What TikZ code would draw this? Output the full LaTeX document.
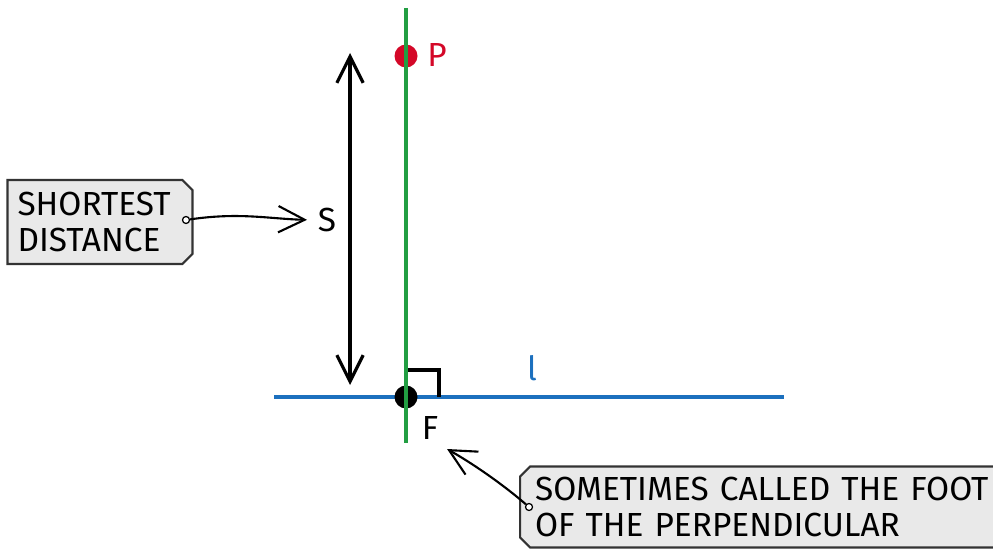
\documentclass[tikz,border=0pt]{standalone}
\usepackage{fontspec}
\setmainfont{Fira Sans}
\usetikzlibrary{arrows.meta, shapes.misc, positioning}

\definecolor{perpgreen}{RGB}{34,158,66}
\definecolor{lineblue}{RGB}{28,112,190}
\definecolor{pointred}{RGB}{212,8,40}
\definecolor{tagfill}{RGB}{233,233,233}

\begin{document}
\begin{tikzpicture}[
    x=0.02cm, y=-0.02cm,
    >={Straight Barb[length=15pt, width=15pt]},
    every node/.style={font=\fontsize{19}{21}\selectfont},
    dot/.style={circle, fill, inner sep=0pt, minimum size=0.46cm},
    lab/.style={inner sep=2pt},
    tag/.style={chamfered rectangle, draw=black!80, fill=tagfill, line width=1.2pt,
        align=left, inner sep=0pt, chamfered rectangle xsep=0.1cm,
        chamfered rectangle ysep=0.1cm},
    hole/.style={circle, draw, fill=white, inner sep=0pt, minimum size=4pt, line width=0.7pt},
    link/.style={->, line width=1.2pt}
]
\useasboundingbox (0,0) rectangle (993,550);

% Line l
\coordinate (gTop) at (406,8);
\coordinate (gBot) at (406,443);
\coordinate (lLeft) at (274,397);
\coordinate (lRight) at (784,397);
\draw[lineblue, line width=2.2pt] (lLeft) -- (lRight);

% Points
\node[dot, fill=pointred] (P) at (406,56) {};
\node[dot, fill=black] (F) at (406,397) {};
\draw[line width=1.8pt] (F.center) ++(0,-27) -| ++(33,27);

% Perpendicular
\draw[perpgreen, line width=2.2pt] (gTop) -- (gBot);

% Labels
\node[lab, text=pointred] (Plab) at (437,55) {P};
\node[lab] (Flab) at (430,428) {F};
\node[lab] (S) at (327,220) {S};
\node[lab, text=lineblue] (lname) at (532,368) {l};

% Shortest distance
\coordinate (sTop) at (350,53);
\coordinate (sBot) at (350,385);
\draw[<->, line width=1.8pt] (sTop) -- (sBot);

% Tags
\node[tag, chamfered rectangle corners={north east, south east},
    minimum width=3.7cm, minimum height=1.68cm, text width=3.3cm] (tag1) at (100,222)
    {SHORTEST\\DISTANCE};
\node[tag, chamfered rectangle corners={north west, south west},
    minimum width=10.6cm, minimum height=1.62cm, text width=10cm] (tag2) at (785,507)
    {SOMETIMES CALLED THE FOOT\\OF THE PERPENDICULAR};
\node[hole] (h1) at (186,220) {};
\node[hole] (h2) at (529,507) {};

% Arrows
\coordinate (fTip) at (447,449);
\draw[link, shorten >=4pt] (h1) .. controls (240,212) and (270,219) .. (S.west);
\draw[link] (h2) .. controls (500,482) and (470,462) .. (fTip);

\end{tikzpicture}
\end{document}
